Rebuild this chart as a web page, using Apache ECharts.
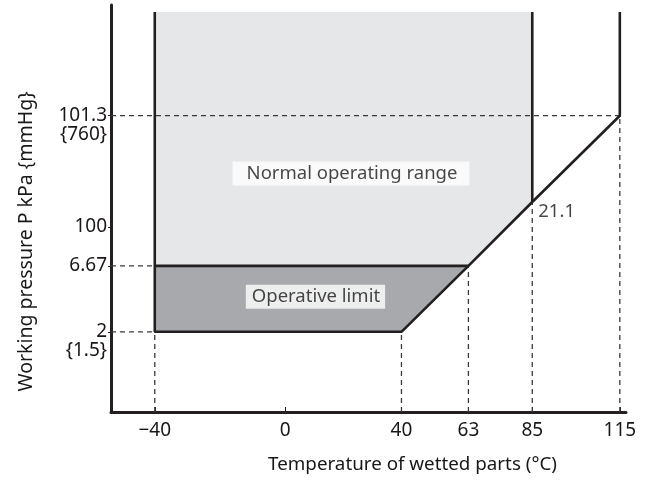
<!DOCTYPE html>
<html>
<head>
<meta charset="utf-8">
<title>Working pressure vs temperature</title>
<script src="https://cdn.jsdelivr.net/npm/echarts@6/dist/echarts.min.js"></script>
</head>
<body style="margin:0;background:#fff">
<div id="main" style="width:648px;height:481px"></div>
<script type="text/javascript">
// temperature ticks and where each one sits along the (non linear) x axis, 0..100
var tempTicks = [-40, 0, 40, 63, 85, 115];
var tempTickText = ['\u221240', '0', '40', '63', '85', '115'];
var tempAt = [8.5, 33.8, 56.4, 69.4, 81.8, 98.8];

// pressure levels used by the chart and their place on the y axis, 0..100
var presLevels = [2, 6.67, 21.1, 101.3];
var presAt = [19.7, 35.9, 51.6, 72.8];
var presTop = 98.3; // open top of the regions

// y axis labels (kPa, with mmHg in braces underneath)
var yTickText = ['2', '6.67', '100', '101.3'];
var yTickAt = [19.7, 35.9, 45.5, 72.8];
var yBraceText = ['{1.5}', '{760}'];
var yBraceAt = [15.0, 68.1];

// regions as [temperature, pressure], null pressure = open top
var normalRange = [[-40, null], [85, null], [85, 21.1], [63, 6.67], [-40, 6.67]];
var operativeLimit = [[-40, 6.67], [63, 6.67], [40, 2], [-40, 2]];
var boundary = [[-40, null], [-40, 2], [40, 2], [63, 6.67], [85, 21.1], [115, 101.3], [115, null]];
var normalEdge = [[85, null], [85, 21.1]];
var limitEdge = [[-40, 6.67], [63, 6.67]];
// corners that get dashed guide lines to the axes
var hGuides = [[-40, 2], [-40, 6.67], [115, 101.3]];
var vGuides = [[-40, 2], [40, 2], [63, 6.67], [85, 21.1], [115, 101.3]];

function lookup(v, vals, at) {
	var i = vals.indexOf(v);
	return i >= 0 ? at[i] : null;
}
function toXY(p) {
	return [lookup(p[0], tempTicks, tempAt), p[1] === null ? presTop : lookup(p[1], presLevels, presAt)];
}

var LINE = '#231f20';
var TEXT = '#1a1718';
var FONT = 'Noto Sans';

var myChart = echarts.init(document.getElementById('main'));

function polygonSeries(pts, fill) {
	return {
		type: 'custom',
		coordinateSystem: 'cartesian2d',
		silent: true,
		data: pts.map(toXY),
		renderItem: function (params, api) {
			if (params.dataIndex !== 0) return;
			var pts2 = pts.map(toXY).map(function (p) { return api.coord(p); });
			return { type: 'polygon', shape: { points: pts2 }, style: { fill: fill } };
		},
		z: 1
	};
}
function lineSeries(data, dashed) {
	return {
		type: 'line',
		data: data,
		symbol: 'none',
		silent: true,
		lineStyle: dashed ? { color: '#3a3a3a', width: 1.3, type: [5, 4] } : { color: LINE, width: 2.6 },
		z: dashed ? 2 : 3
	};
}

var series = [
	polygonSeries(normalRange, '#e6e7e8'),
	polygonSeries(operativeLimit, '#a7a9ac')
];
hGuides.forEach(function (p) {
	var c = toXY(p);
	series.push(lineSeries([[0, c[1]], c], true));
});
vGuides.forEach(function (p) {
	var c = toXY(p);
	series.push(lineSeries([[c[0], 0], c], true));
});
series.push(lineSeries(boundary.map(toXY), false));
series.push(lineSeries(normalEdge.map(toXY), false));
series.push(lineSeries(limitEdge.map(toXY), false));

// text labels inside the chart
function boxLabel(text, pad) {
	return { show: true, position: 'inside', formatter: text, color: TEXT, fontFamily: FONT, fontSize: 18.5,
		backgroundColor: '#fff', padding: pad };
}
series.push({
	type: 'scatter', symbolSize: 0, silent: true, z: 5,
	data: [
		{ value: [46.6, 58.6], label: boxLabel('Normal operating range', [3, 12, 2, 14]) },
		{ value: [39.7, 28.3], label: boxLabel('Operative limit', [3, 5, 2, 6]) },
		{ value: toXY([85, 21.1]), label: { show: true, position: 'right', offset: [1, 10], formatter: '21.1',
			color: TEXT, fontFamily: FONT, fontSize: 18.5 } }
	]
});

var yLabelAt = yTickAt.concat(yBraceAt);
var yLabelText = yTickText.concat(yBraceText);

myChart.setOption({
	animation: false,
	grid: { left: 111, right: 22, top: 5, bottom: 69 },
	xAxis: {
		type: 'value', min: 0, max: 100,
		name: 'Temperature of wetted parts (\u00b0C)',
		nameLocation: 'middle', nameGap: 43,
		nameTextStyle: { color: TEXT, fontFamily: FONT, fontSize: 18.8, padding: [0, 0, 0, 88] },
		axisLine: { lineStyle: { color: LINE, width: 3 } },
		axisTick: { show: true, inside: true, length: 5, customValues: tempAt, lineStyle: { color: LINE, width: 1 } },
		axisLabel: {
			customValues: tempAt, margin: 9, color: TEXT, fontFamily: FONT, fontSize: 19,
			formatter: function (v) { return lookup(v, tempAt, tempTickText); }
		},
		splitLine: { show: false }
	},
	yAxis: {
		type: 'value', min: 0, max: 100,
		name: 'Working pressure P kPa {mmHg}',
		nameLocation: 'middle', nameGap: 75, nameRotate: 90,
		nameTextStyle: { color: TEXT, fontFamily: FONT, fontSize: 19.5, padding: [0, 66, 0, 0] },
		axisLine: { lineStyle: { color: LINE, width: 3 } },
		axisTick: { show: true, length: 3, customValues: yTickAt, lineStyle: { color: LINE, width: 1 } },
		axisLabel: {
			customValues: yLabelAt, margin: 4, color: TEXT, fontFamily: FONT, fontSize: 19,
			formatter: function (v) { return lookup(v, yLabelAt, yLabelText); }
		},
		splitLine: { show: false }
	},
	series: series
});
</script>
</body>
</html>
